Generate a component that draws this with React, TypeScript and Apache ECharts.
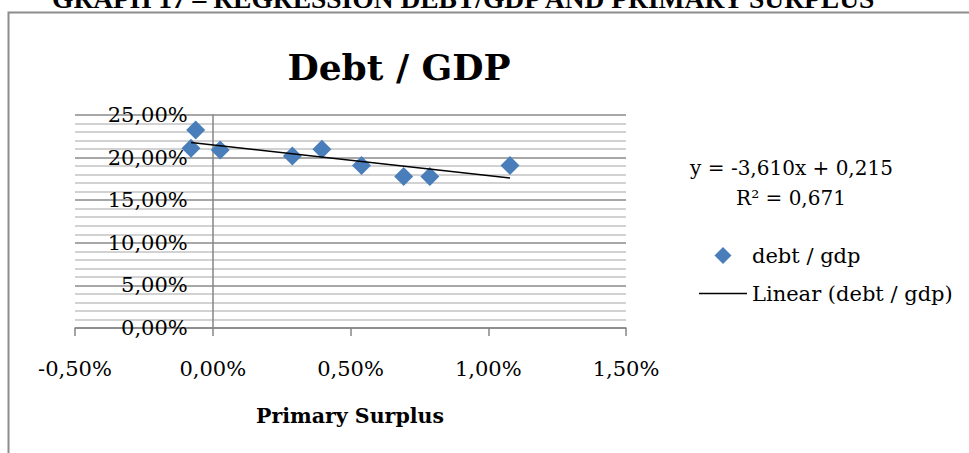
import React, { useEffect, useRef } from "react";
import * as echarts from "echarts";

// Data
const PRIMARY_SURPLUS = [-0.00079, -0.00062, 0.00027, 0.00289, 0.00396, 0.0054, 0.00693, 0.00788, 0.01079];
const DEBT_GDP = [0.211, 0.2324, 0.209, 0.202, 0.2098, 0.1906, 0.1778, 0.1778, 0.1906];
const TREND_SLOPE = -3.61;
const TREND_INTERCEPT = 0.215;
const EQUATION_TEXT = "y = -3,610x + 0,215";
const R2_TEXT = "R\u00B2 = 0,671";
const HEADING = "GRAPH 17 \u2013 REGRESSION DEBT/GDP AND PRIMARY SURPLUS";
const CHART_TITLE = "Debt / GDP";
const X_NAME = "Primary Surplus";
const SERIES_NAME = "debt / gdp";
const TREND_NAME = "Linear (debt / gdp)";
const X_MIN = -0.005;
const X_MAX = 0.015;
const X_STEP = 0.005;
const Y_MIN = 0;
const Y_MAX = 0.25;
const Y_STEP = 0.05;

const SERIF = '"DejaVu Serif", serif';
const pct = (v: number) => (v * 100).toFixed(2).replace(".", ",") + "%";

const GRID_LEFT = 75;
const GRID_RIGHT = 343;
const WIDTH = 969;
const HEIGHT = 453;

export default function App() {
  const ref = useRef<HTMLDivElement>(null);
  useEffect(() => {
    if (!ref.current) return;
    const chart = echarts.init(ref.current, undefined, { renderer: "svg" });
    const points = PRIMARY_SURPLUS.map((x, i) => [x, DEBT_GDP[i]]);
    const xLo = Math.min(...PRIMARY_SURPLUS);
    const xHi = Math.max(...PRIMARY_SURPLUS);
    const trend = [
      [xLo, TREND_SLOPE * xLo + TREND_INTERCEPT],
      [xHi, TREND_SLOPE * xHi + TREND_INTERCEPT],
    ];
    const gridWidth = WIDTH - GRID_LEFT - GRID_RIGHT;
    // y axis crosses at x = 0, like the reference
    const yAxisOffset = -((0 - X_MIN) / (X_MAX - X_MIN)) * gridWidth;
    chart.setOption({
      animation: false,
      backgroundColor: "#ffffff",
      grid: {
        left: GRID_LEFT,
        right: GRID_RIGHT,
        top: 115,
        bottom: 125,
        containLabel: false,
        outerBoundsMode: "none",
      },
      xAxis: {
        type: "value",
        min: X_MIN,
        max: X_MAX,
        interval: X_STEP,
        axisLine: { show: true, onZero: false, lineStyle: { color: "#868686", width: 1.5 } },
        axisTick: { show: true, inside: false, length: 8, lineStyle: { color: "#868686", width: 1.5 } },
        axisLabel: { formatter: pct, margin: 30, fontFamily: SERIF, fontSize: 21, color: "#000" },
        splitLine: { show: false },
      },
      yAxis: {
        type: "value",
        min: Y_MIN,
        max: Y_MAX,
        interval: Y_STEP,
        offset: yAxisOffset,
        axisLine: { show: true, onZero: false, lineStyle: { color: "#868686", width: 1.5 } },
        axisTick: { show: false },
        axisLabel: { formatter: pct, margin: 25, fontFamily: SERIF, fontSize: 21, color: "#000" },
        splitLine: { show: true, lineStyle: { color: "#8a8a8a", width: 1.5 } },
        minorTick: { show: false, splitNumber: 5 },
        minorSplitLine: { show: true, lineStyle: { color: "#c3c3c3", width: 1.5 } },
      },
      legend: {
        orient: "vertical",
        left: 694,
        top: 240,
        itemWidth: 48,
        itemHeight: 17,
        itemGap: 17,
        symbolKeepAspect: true,
        textStyle: { fontFamily: SERIF, fontSize: 21, color: "#000" },
        data: [
          { name: SERIES_NAME, icon: "path://M0,-1L1,0L0,1L-1,0Z" },
          { name: TREND_NAME, icon: "path://M0,0H48V1.5H0Z" },
        ],
      },
      series: [
        {
          name: SERIES_NAME,
          type: "scatter",
          symbol: "diamond",
          symbolSize: 19,
          itemStyle: { color: "#4a7ebb", opacity: 1 },
          data: points,
          z: 3,
        },
        {
          name: TREND_NAME,
          type: "line",
          symbol: "none",
          showSymbol: false,
          lineStyle: { color: "#000", width: 1.5 },
          itemStyle: { color: "#000" },
          data: trend,
          z: 4,
        },
      ],
      graphic: [
        {
          type: "rect",
          silent: true,
          z: -10,
          shape: { x: 8.5, y: 12.5, width: 1000, height: 600 },
          style: { fill: "none", stroke: "#8c8c8c", lineWidth: 2 },
        },
        {
          type: "text",
          silent: true,
          x: 52,
          y: -2,
          style: {
            text: HEADING,
            fontFamily: '"Liberation Serif", serif',
            fontWeight: "bold",
            fontSize: 27.5,
            fill: "#000",
            align: "left",
            verticalAlign: "middle",
          },
        },
        {
          type: "text",
          silent: true,
          x: 399,
          y: 66.5,
          style: {
            text: CHART_TITLE,
            fontFamily: SERIF,
            fontWeight: "bold",
            fontSize: 36,
            fill: "#000",
            align: "center",
            verticalAlign: "middle",
          },
        },
        {
          type: "text",
          silent: true,
          x: 350,
          y: 415.5,
          style: {
            text: X_NAME,
            fontFamily: SERIF,
            fontWeight: "bold",
            fontSize: 20.5,
            fill: "#000",
            align: "center",
            verticalAlign: "middle",
          },
        },
        {
          type: "text",
          silent: true,
          x: 791.5,
          y: 167.5,
          style: {
            text: EQUATION_TEXT,
            fontFamily: SERIF,
            fontSize: 20,
            fill: "#000",
            align: "center",
            verticalAlign: "middle",
          },
        },
        {
          type: "text",
          silent: true,
          x: 791,
          y: 197.5,
          style: {
            text: R2_TEXT,
            fontFamily: SERIF,
            fontSize: 20,
            fill: "#000",
            align: "center",
            verticalAlign: "middle",
          },
        },
      ],
    });
    return () => chart.dispose();
  }, []);
  return (
    <div
      ref={ref}
      style={{ position: "absolute", left: 0, top: 0, width: WIDTH, height: HEIGHT, background: "#fff" }}
    />
  );
}
